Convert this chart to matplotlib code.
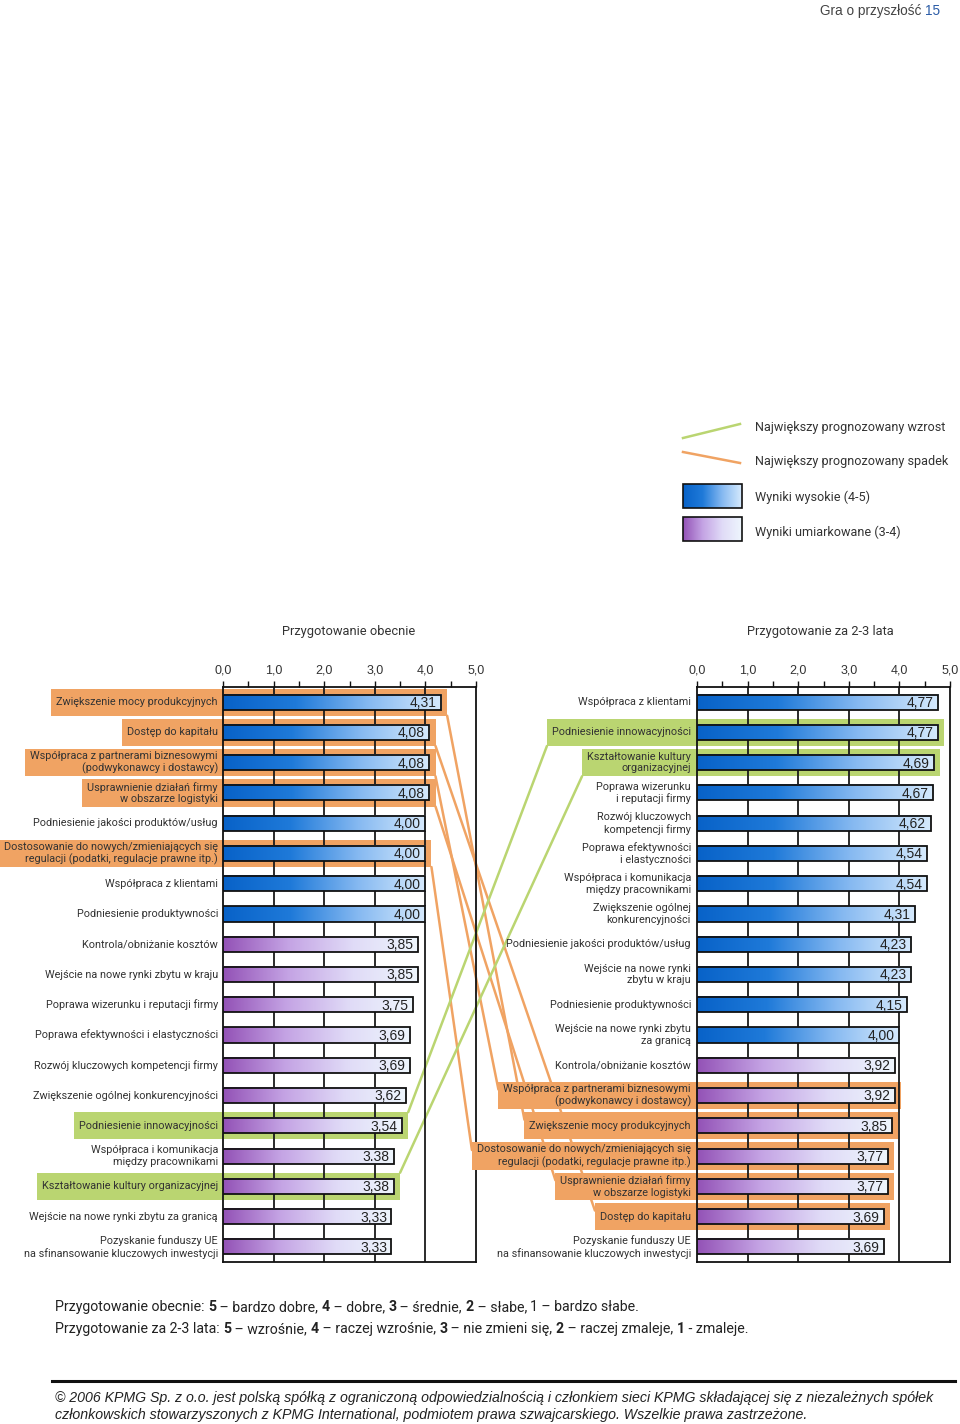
import numpy as np
import matplotlib
matplotlib.use('Agg')
import matplotlib.pyplot as plt
from matplotlib import font_manager
from matplotlib.colors import LinearSegmentedColormap
from matplotlib.patches import Rectangle, ConnectionPatch

# --- data ---
left_labels = [
    'Zwiększenie mocy produkcyjnych',
    'Dostęp do kapitału',
    'Współpraca z partnerami biznesowymi\n(podwykonawcy i dostawcy)',
    'Usprawnienie działań firmy\nw obszarze logistyki',
    'Podniesienie jakości produktów/usług',
    'Dostosowanie do nowych/zmieniających się\nregulacji (podatki, regulacje prawne itp.)',
    'Współpraca z klientami',
    'Podniesienie produktywności',
    'Kontrola/obniżanie kosztów',
    'Wejście na nowe rynki zbytu w kraju',
    'Poprawa wizerunku i reputacji firmy',
    'Poprawa efektywności i elastyczności',
    'Rozwój kluczowych kompetencji firmy',
    'Zwiększenie ogólnej konkurencyjności',
    'Podniesienie innowacyjności',
    'Współpraca i komunikacja\nmiędzy pracownikami',
    'Kształtowanie kultury organizacyjnej',
    'Wejście na nowe rynki zbytu za granicą',
    'Pozyskanie funduszy UE\nna sfinansowanie kluczowych inwestycji',
]
left_values = [4.31, 4.08, 4.08, 4.08, 4.00, 4.00, 4.00, 4.00, 3.85, 3.85,
               3.75, 3.69, 3.69, 3.62, 3.54, 3.38, 3.38, 3.33, 3.33]

right_labels = [
    'Współpraca z klientami',
    'Podniesienie innowacyjności',
    'Kształtowanie kultury\norganizacyjnej',
    'Poprawa wizerunku\ni reputacji firmy',
    'Rozwój kluczowych\nkompetencji firmy',
    'Poprawa efektywności\ni elastyczności',
    'Współpraca i komunikacja\nmiędzy pracownikami',
    'Zwiększenie ogólnej\nkonkurencyjności',
    'Podniesienie jakości produktów/usług',
    'Wejście na nowe rynki\nzbytu w kraju',
    'Podniesienie produktywności',
    'Wejście na nowe rynki zbytu\nza granicą',
    'Kontrola/obniżanie kosztów',
    'Współpraca z partnerami biznesowymi\n(podwykonawcy i dostawcy)',
    'Zwiększenie mocy produkcyjnych',
    'Dostosowanie do nowych/zmieniających się\nregulacji (podatki, regulacje prawne itp.)',
    'Usprawnienie działań firmy\nw obszarze logistyki',
    'Dostęp do kapitału',
    'Pozyskanie funduszy UE\nna sfinansowanie kluczowych inwestycji',
]
right_values = [4.77, 4.77, 4.69, 4.67, 4.62, 4.54, 4.54, 4.31, 4.23, 4.23,
                4.15, 4.00, 3.92, 3.92, 3.85, 3.77, 3.77, 3.69, 3.69]

# largest forecast drop (orange) / growth (green)
orange_items = [
    'Zwiększenie mocy produkcyjnych',
    'Dostęp do kapitału',
    'Współpraca z partnerami biznesowymi (podwykonawcy i dostawcy)',
    'Usprawnienie działań firmy w obszarze logistyki',
    'Dostosowanie do nowych/zmieniających się regulacji (podatki, regulacje prawne itp.)',
]
green_items = ['Podniesienie innowacyjności', 'Kształtowanie kultury organizacyjnej']

ticks = [0, 1, 2, 3, 4, 5]

# --- style ---
installed = {f.name for f in font_manager.fontManager.ttflist}
NARROW = 'Roboto' if 'Roboto' in installed else 'DejaVu Sans'
SANS = 'Liberation Sans'
TXT = '#333333'
ORANGE = '#F0A363'
GREEN = '#BAD571'
cm_blue = LinearSegmentedColormap.from_list('b', ['#0862c8', '#1f7ad9', '#86b9f1', '#d6eafd'])
cm_purple = LinearSegmentedColormap.from_list('p', ['#9352b6', '#c4a3e4', '#e0dbf7', '#eef6fd'])
grad = np.linspace(0, 1, 256).reshape(1, -1)

W, H = 960, 1424
fig = plt.figure(figsize=(W / 100, H / 100), dpi=100)


def px_box(x0, y0, x1, y1):
    return [x0 / W, 1 - y1 / H, (x1 - x0) / W, (y1 - y0) / H]


ov = fig.add_axes([0, 0, 1, 1], zorder=0)
ov.patch.set_alpha(0)
ov.set_xlim(0, W)
ov.set_ylim(H, 0)
ov.axis('off')
ax_l = fig.add_axes(px_box(223, 687, 476, 1262), zorder=1)
ax_r = fig.add_axes(px_box(697, 687, 950, 1262), zorder=1)


def fmt(v):
    return f'{v:.2f}'.replace('.', ',')


def draw_panel(ax, labels, values, value_text, label_x):
    n = len(labels)
    ax.patch.set_alpha(0)
    for x in ticks[1:-1]:
        ax.axvline(x, color='#1a1a1a', lw=1.3, zorder=2)
    texts = []
    for i, (lab, v) in enumerate(zip(labels, values)):
        cmap = cm_blue if v >= 4 else cm_purple
        ax.imshow(grad, cmap=cmap, extent=[0, v, i + 0.25, i - 0.25],
                  aspect='auto', interpolation='bilinear', zorder=3)
        ax.add_patch(Rectangle((0, i - 0.25), v, 0.5, fill=False,
                               ec='#111111', lw=1.3, zorder=4))
        ax.text(v - 0.09, i + 0.03, value_text[i], ha='right', va='center',
                fontsize=10, family=SANS, color='#222222', zorder=5)
        t = ax.text(label_x, i, lab, ha='right', va='center', ma='right',
                    fontsize=7.8, family=NARROW, color=TXT, linespacing=1.2,
                    clip_on=False)
        texts.append(t)
    ax.set_xlim(0, 5)
    ax.set_ylim(n - 0.5, -0.5)
    ax.set_xticks(ticks)
    ax.set_xticklabels([f'{t:.1f}'.replace('.', ',') for t in ticks])
    ax.set_xticks(np.arange(0.5, 5, 1), minor=True)
    ax.tick_params(axis='x', which='both', top=True, bottom=False,
                   labeltop=True, labelbottom=False, direction='out',
                   length=4, width=1, color='#111111', labelsize=9,
                   labelcolor=TXT, pad=3.5)
    ax.set_yticks([])
    for s in ax.spines.values():
        s.set_linewidth(1.3)
        s.set_color('#111111')
    for lab in ax.get_xticklabels():
        lab.set_family(SANS)
    return texts


left_vt = [fmt(v) for v in left_values]
left_vt[15] = '3.38'  # printed with a dot in the source
right_vt = [fmt(v) for v in right_values]

tl = draw_panel(ax_l, left_labels, left_values, left_vt, -0.1)
tr = draw_panel(ax_r, right_labels, right_values, right_vt, -0.12)

fig.text(349 / W, 1 - 632 / H, 'Przygotowanie obecnie', ha='center', va='center',
         fontsize=9.3, family=NARROW, color=TXT)
fig.text(820 / W, 1 - 632 / H, 'Przygotowanie za 2-3 lata', ha='center', va='center',
         fontsize=9.3, family=NARROW, color=TXT)

# --- highlight boxes (need text extents) ---
fig.canvas.draw()
renderer = fig.canvas.get_renderer()


def norm(s):
    return s.replace('\n', ' ')


def add_highlights(ax, labels, values, texts):
    boxes = {}
    inv = ax.transData.inverted()
    for i, lab in enumerate(labels):
        key = norm(lab)
        if key in orange_items:
            col = ORANGE
        elif key in green_items:
            col = GREEN
        else:
            continue
        bb = texts[i].get_window_extent(renderer)
        x0 = inv.transform((bb.x0 - 5, 0))[0]
        x1 = values[i] + 0.12
        ax.add_patch(Rectangle((x0, i - 0.45), x1 - x0, 0.9, fc=col, ec='none',
                               zorder=1, clip_on=False))
        boxes[key] = (x0, x1, i)
    return boxes


bl = add_highlights(ax_l, left_labels, left_values, tl)
br = add_highlights(ax_r, right_labels, right_values, tr)

for key, (x0, x1, i) in bl.items():
    rx0, rx1, j = br[key]
    if key in orange_items:
        a, b, col = (x1, i + 0.45), (rx0, j - 0.2), ORANGE
    else:
        a, b, col = (x1, i - 0.45), (rx0, j + 0.45), GREEN
    con = ConnectionPatch(xyA=a, coordsA=ax_l.transData, xyB=b, coordsB=ax_r.transData,
                          color=col, lw=1.8, zorder=0.5)
    fig.add_artist(con)

# --- overlay: header, legend, footer (pixel coords) ---
ov.plot([683, 740], [438, 424], color=GREEN, lw=1.8)
ov.plot([683, 740], [452, 463], color=ORANGE, lw=1.8)
for (y0, y1), cmap in [((484, 508), cm_blue), ((517, 541), cm_purple)]:
    ov.imshow(grad, cmap=cmap, extent=[683, 742, y1, y0], aspect='auto',
              interpolation='bilinear')
    ov.add_patch(Rectangle((683, y0), 59, y1 - y0, fill=False, ec='#111111', lw=1.2))
ov.set_xlim(0, W)
ov.set_ylim(H, 0)
legend_texts = ['Największy prognozowany wzrost', 'Największy prognozowany spadek',
                'Wyniki wysokie (4-5)', 'Wyniki umiarkowane (3-4)']
for y, s in zip([427, 462, 497, 532], legend_texts):
    ov.text(755, y, s, ha='left', va='center', fontsize=9.1, family=NARROW, color=TXT)

num = ov.text(940, 11, '15', ha='right', va='center', fontsize=9.8, family=SANS,
              color='#2a5ba6')
ov.annotate('Gra o przyszłość ', xy=(0, 0), xycoords=num, ha='right', va='bottom',
            fontsize=9.8, family=SANS, color='#444444')


def rich_line(x, y, parts, size):
    # pieces share one baseline; each starts where the previous one ends
    for s, w in parts:
        t = ov.text(x, y, s, ha='left', va='baseline', fontsize=size,
                    family=NARROW, fontweight=w, color='#222222')
        x = t.get_window_extent(renderer).x1


n, b = 'normal', 'bold'
rich_line(55, 1311, [('Przygotowanie obecnie: ', n), ('5', b), (' – bardzo dobre, ', n),
                     ('4', b), (' – dobre, ', n), ('3', b), (' – średnie, ', n),
                     ('2', b), (' – słabe, ', n), ('1 – bardzo słabe.', n)], 10.2)
rich_line(55, 1333, [('Przygotowanie za 2-3 lata: ', n), ('5', b), (' – wzrośnie, ', n),
                     ('4', b), (' – raczej wzrośnie, ', n), ('3', b),
                     (' – nie zmieni się, ', n), ('2', b), (' – raczej zmaleje, ', n),
                     ('1', b), (' - zmaleje.', n)], 10.2)

ov.plot([52, 955], [1381, 1381], color='#111111', lw=2.2)
ov.text(55, 1398, '© 2006 KPMG Sp. z o.o. jest polską spółką z ograniczoną odpowiedzialnością '
        'i członkiem sieci KPMG składającej się z niezależnych spółek',
        ha='left', va='center', fontsize=10.15, family=SANS, style='italic', color='#222222')
ov.text(55, 1415, 'członkowskich stowarzyszonych z KPMG International, podmiotem prawa '
        'szwajcarskiego. Wszelkie prawa zastrzeżone.',
        ha='left', va='center', fontsize=10.15, family=SANS, style='italic', color='#222222')

fig.savefig('out.png', dpi=100)
